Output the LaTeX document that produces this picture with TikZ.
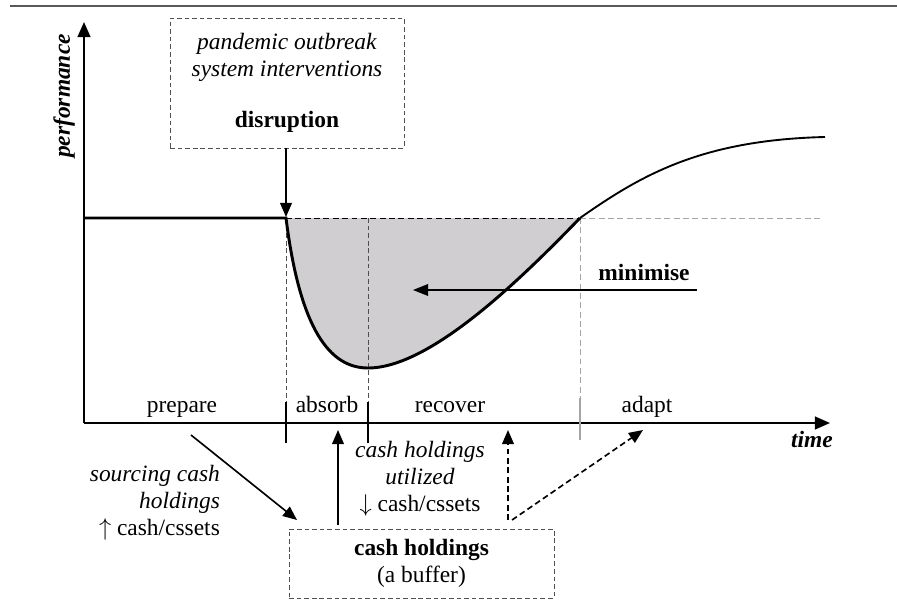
\documentclass[tikz,border=0pt]{standalone}
\usepackage{fontspec}
\setmainfont{Liberation Serif}
\usepackage{xcolor}
\definecolor{lossgray}{RGB}{208, 206, 208}
\definecolor{boxgray}{RGB}{80, 80, 80}
\definecolor{guidegray}{RGB}{165, 165, 165}
\usepackage{tikz}
\usetikzlibrary{arrows.meta}
\tikzstyle{dashbox} = [draw=boxgray, dash pattern=on 4pt off 2.5pt, thick, align=center, inner sep=0pt]
\tikzstyle{axis} = [line width=1.7pt, -{Triangle[length=13pt, width=11pt]}]
\tikzstyle{arr} = [line width=1.4pt, -{Triangle[length=12pt, width=10pt]}]
\tikzstyle{guide} = [dash pattern=on 4pt off 2.5pt, thick, boxgray]
\tikzstyle{lightguide} = [dash pattern=on 5pt off 3pt, thick, guidegray]
\tikzstyle{tick} = [line width=2.4pt]
\tikzstyle{phase} = [anchor=base]

\begin{document}
\begin{tikzpicture}[x=0.03cm, y=-0.03cm, font=\fontsize{20}{23}\selectfont]
  \useasboundingbox (0,0) rectangle (897,611);
  \draw[line width=1.3pt, gray!70!black] (10,6) -- (897,6);

  % loss area
  \fill[lossgray] (286,218) .. controls (300,330) and (330,368) .. (368,368)
    .. controls (430,368) and (520,280) .. (580,218) -- cycle;

  % guides
  \draw[guide, black, dash pattern=on 5pt off 3pt] (286,218) -- (580,218);
  \draw[lightguide] (580,218) -- (820,218);
  \draw[guide] (286,218) -- (286,402);
  \draw[guide] (368,218) -- (368,402);
  \draw[lightguide] (580,218) -- (580,398);

  % axes
  \coordinate (O) at (84,423);
  \coordinate (ytip) at (84,22);
  \coordinate (xtip) at (830,423);
  \draw[axis] (O) -- (ytip);
  \draw[axis] (O) -- (xtip);
  \node[rotate=90] (perf) at (64,96) {\textbf{\textit{performance}}};
  \node (time) at (812,439) {\textbf{\textit{time}}};

  % performance curve
  \draw[line width=2.5pt] (84,218) -- (286,218)
    .. controls (300,330) and (330,368) .. (368,368)
    .. controls (430,368) and (520,280) .. (580,218);
  \draw[line width=1.6pt] (580,218) .. controls (640,176) and (700,140) .. (825,137);

  % ticks and phases
  \draw[tick] (286,402) -- (286,443);
  \draw[tick] (368,402) -- (368,443);
  \draw[tick, guidegray] (580,398) -- (580,440);
  \node[phase] (prep) at (182,412) {prepare};
  \node[phase] (abs) at (327,412) {absorb};
  \node[phase] (rec) at (450,412) {recover};
  \node[phase] (adapt) at (647,412) {adapt};

  % disruption
  \node[dashbox, minimum width=7.02cm, minimum height=3.9cm] (disr) at (287,83)
    {\textit{pandemic outbreak}\\\textit{system interventions}\\[20pt]\textbf{disruption}};
  \coordinate (drop) at (286,217);
  \draw[arr] (disr.south -| drop) -- (drop);

  % minimise
  \node (mini) at (644,272) {\textbf{minimise}};
  \coordinate (mstart) at (697,290);
  \coordinate (mend) at (413,290);
  \draw[line width=1.4pt, -{Triangle[length=13pt, width=10pt]}] (mstart) -- (mend);

  % cash holdings
  \node[dashbox, minimum width=7.95cm, minimum height=2.07cm] (cash) at (421.5,563.5)
    {\textbf{cash holdings}\\(a buffer)};
  \node[align=right, anchor=east] (src) at (224,503)
    {\textit{sourcing cash}\\\textit{holdings}\\$\uparrow$ cash/cssets};
  \node[align=center] (used) at (420,479)
    {\textit{cash holdings}\\\textit{utilized}\\$\downarrow$ cash/cssets};
  \coordinate (p1) at (191,435);
  \coordinate (p2) at (297,520);
  \draw[arr] (p1) -- (p2);
  \coordinate (a1) at (338,525);
  \coordinate (a2) at (338,430);
  \draw[arr] (a1) -- (a2);
  \coordinate (r1) at (508,520);
  \coordinate (r2) at (508,430);
  \draw[arr, dash pattern=on 5pt off 3pt] (r1) -- (r2);
  \coordinate (d1) at (512,520);
  \coordinate (d2) at (643,430);
  \draw[arr, dash pattern=on 5pt off 3pt] (d1) -- (d2);
\end{tikzpicture}
\end{document}
